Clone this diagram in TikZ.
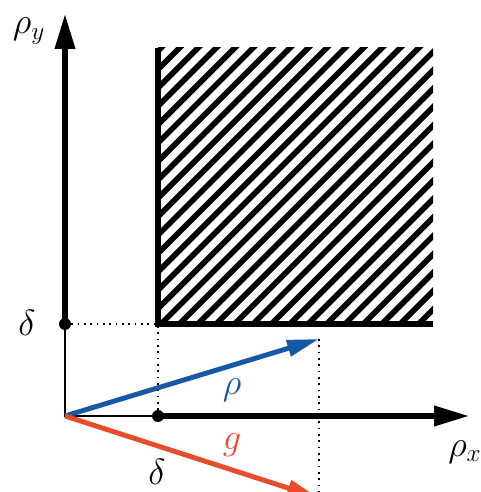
\documentclass[tikz,border=0pt]{standalone}
\usepackage{tikz}
\usetikzlibrary{arrows.meta}
\definecolor{rhoblue}{RGB}{24,86,166}
\definecolor{gred}{RGB}{232,76,44}
\begin{document}
\begin{tikzpicture}[
        thinaxis/.style={line width=1.1pt},
        thickaxis/.style={line width=3.8pt},
        bigtip/.style={-{Triangle[length=0.72cm, width=0.38cm]}},
        vectip/.style={-{Triangle[length=0.64cm, width=0.32cm]}},
        guide/.style={line width=1pt, dash pattern=on 1pt off 2.6pt},
        hatch/.style={line width=3.2pt},
        dot/.style={circle, fill=black, inner sep=0pt, minimum size=0.24cm},
        lbl/.style={font=\fontsize{22}{26}\selectfont, inner sep=0pt}]
    \useasboundingbox (0,0) rectangle (9.6,9.84);
    \coordinate (O) at (1.3,1.52);
    \coordinate (ytop) at (1.3,9.58);
    \coordinate (xend) at (9.4,1.52);
    \coordinate (C) at (3.16,3.36);
    \coordinate (boxtop) at (3.16,8.88);
    \coordinate (boxright) at (8.66,3.36);
    \coordinate (rhotip) at (6.38,3.06);
    \coordinate (gtip) at (6.38,-0.12);
    \coordinate (vbottom) at (6.38,-0.1);
    \node[dot] (dy) at (1.3,3.36) {};
    \node[dot] (dx) at (3.16,1.52) {};
    % hatched region
    \begin{scope}
        \clip (C) rectangle (8.66,8.88);
        \foreach \i in {-16,...,16}
            \draw[hatch] ({3.22+\i*0.368},3.36) -- ++(6,6);
    \end{scope}
    \draw[thickaxis] (boxtop) -- (C) -- (boxright);
    % guides
    \draw[guide] (dy) -- (C) -- (dx);
    \draw[guide] (rhotip) -- (vbottom);
    % axes
    \draw[thinaxis] (dy.center) -- (O) -- (dx.center);
    \draw[thickaxis, bigtip] (dy.center) -- (ytop);
    \draw[thickaxis, bigtip] (dx.center) -- (xend);
    % vectors
    \draw[rhoblue, line width=2.8pt, vectip] (O) -- (rhotip);
    \draw[gred, line width=2.8pt, vectip] (O) -- (gtip);
    % labels
    \node[lbl] (ly) at (0.58,9.22) {$\rho_y$};
    \node[lbl] (lx) at (9.3,0.8) {$\rho_x$};
    \node[lbl] (ldy) at (0.54,3.38) {$\delta$};
    \node[lbl] (ldx) at (3.14,0.4) {$\delta$};
    \node[lbl, text=rhoblue] (lrho) at (4.64,2.04) {$\rho$};
    \node[lbl, text=gred] (lg) at (4.64,0.94) {$g$};
\end{tikzpicture}
\end{document}
